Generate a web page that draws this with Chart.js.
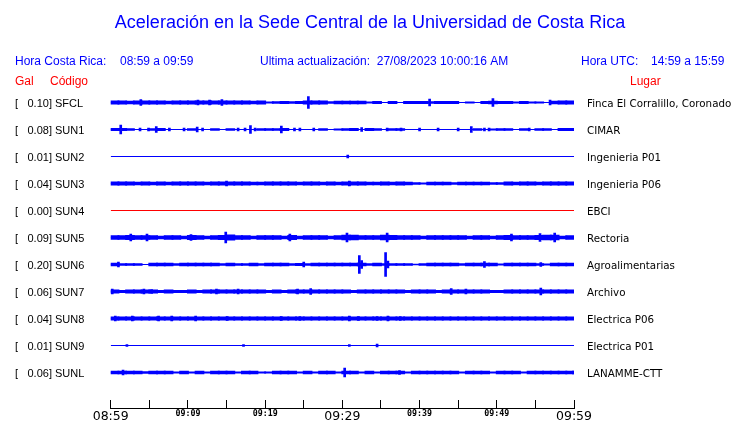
<!DOCTYPE html>
<html>
<head>
<meta charset="utf-8">
<script src="https://cdn.jsdelivr.net/npm/chart.js@4/dist/chart.umd.min.js"></script>
<style>
  html, body { margin: 0; padding: 0; background: #fff; }
  canvas { display: block; }
</style>
</head>
<body>
<canvas id="seismo" width="740" height="423"></canvas>
<script>
// Stations (top to bottom)
const codes = ['SFCL', 'SUN1', 'SUN2', 'SUN3', 'SUN4', 'SUN5', 'SUN6', 'SUN7', 'SUN8', 'SUN9', 'SUNL'];
const galMax = ['0.10', '0.08', '0.01', '0.04', '0.00', '0.09', '0.20', '0.06', '0.04', '0.01', '0.06'];
const places = ['Finca El Corralillo, Coronado', 'CIMAR', 'Ingenieria P01', 'Ingenieria P06', 'EBCI', 'Rectoria',
  'Agroalimentarias', 'Archivo', 'Electrica P06', 'Electrica P01', 'LANAMME-CTT'];

// Time axis, minutes after 08:59
const tickMinutes = [0, 5, 10, 15, 20, 25, 30, 35, 40, 45, 50, 55, 60];
const tickLabels = ['08:59', '', '09:09', '', '09:19', '', '09:29', '', '09:39', '', '09:49', '', '09:59'];
const bigTicks = ['08:59', '09:29', '09:59'];

// Trace envelope (half amplitude, one value per minute) read from the records
const envSFCL = [1.7,1.7,1.3,1.7,1.7,1.7,1.7,1.3,1.7,1.7, 1.7,1.7,1.7,1.7,1.7,1.7,1.7,1.7,1.3,1.7,
  0.6,1.0,1.2,1.0,1.2,1.7,1.7,1.7,0.8,1.5, 1.5,1.5,1.5,0.6,1.2,0,1.2,0,1.2,1.2,
  1.2,0.8,1.2,1.2,1.2,0,0.6,0,1.2,1.4, 1.2,1.2,0.6,1.2,0.6,0.6,0,1.5,1.7,1.7];
const envSUN1 = [1.2,1.2,1.0,0,0,0.8,1.2,0,0,0, 1.0,0,0,0.8,0,0.8,0,0,0,0.8,
  0.8,0.8,1.2,0,0,0,0,0.8,0,0.6, 1.0,1.2,0,1.2,1.0,0,0.8,0.8,0,0,
  0,0,0,0,0,0,0,1.0,0,0.6, 0.8,0.8,0,0.8,0,1.0,1.0,0,1.2,1.2];
const envSUN2 = new Array(60).fill(0);
const envSUN3 = [1.6,1.6,1.6,1.3,1.6,1.3,1.6,1.3,1.6,1.6, 1.6,1.6,1.3,1.6,1.6,1.6,1.6,1.6,1.3,1.3,
  1.6,1.6,1.6,1.6,1.3,1.6,1.6,1.3,1.6,1.3, 1.6,1.6,1.6,1.3,1.3,1.6,1.3,1.6,1.3,1.0,
  0.6,1.3,1.3,1.3,0.8,1.3,1.3,1.3,1.3,1.0, 0.8,1.6,1.3,1.6,1.6,1.3,1.6,1.6,1.6,1.6];
const envSUN4 = new Array(60).fill(0);
const envSUN5 = [2.0,2.0,2.2,2.0,2.0,2.0,1.4,2.0,2.0,1.4, 2.2,2.0,1.4,2.0,2.2,2.6,2.0,2.0,1.4,2.0,
  2.0,2.0,1.4,2.2,1.4,2.0,2.0,2.0,1.4,2.0, 2.4,2.4,2.0,2.0,2.0,2.4,2.2,2.0,2.0,2.0,
  1.4,2.0,2.0,2.0,2.0,2.0,1.4,2.0,2.0,1.4, 2.0,2.2,2.0,2.0,2.0,2.2,2.4,2.4,1.4,2.0];
const envSUN6 = [1.4,1.0,1.0,1.0,0,1.4,1.4,1.4,1.0,1.4, 1.4,1.4,1.4,1.4,1.0,1.4,1.0,1.0,1.4,1.0,
  1.4,1.4,1.4,1.0,1.2,1.0,1.4,1.4,1.4,1.4, 1.4,1.4,1.4,1.0,1.4,1.0,0.8,1.0,1.0,0.5,
  1.0,1.4,1.4,1.4,1.4,1.0,1.4,1.4,1.4,1.4, 0.6,1.4,1.4,1.4,1.4,1.0,0.6,1.4,1.4,1.4];
const envSUN7 = [1.7,1.2,1.7,1.7,1.7,1.7,1.2,1.7,1.2,1.2, 1.7,1.2,1.7,1.7,1.7,1.7,1.7,1.7,1.7,1.7,
  1.2,1.7,1.2,1.7,1.7,1.7,1.7,1.7,1.7,1.7, 1.7,1.2,1.7,1.7,1.7,1.7,1.7,1.7,1.2,1.7,
  1.7,1.7,1.2,1.7,1.7,1.7,1.7,1.7,1.7,1.2, 1.2,1.7,1.7,1.7,1.7,1.7,1.7,1.7,1.7,1.7];
const envSUN8 = new Array(60).fill(1.7);
const envSUN9 = new Array(60).fill(0);
const envSUNL = [1.3,1.3,1.3,1.3,0.9,1.3,1.3,1.3,0.6,1.3, 0.6,1.3,0.6,1.3,1.3,1.3,0.6,1.3,1.3,0.6,
  0.6,1.3,1.3,1.3,0.6,1.3,0.6,1.3,1.3,0.6, 1.3,1.3,0.6,1.3,0.6,1.3,1.3,1.3,0.6,1.3,
  1.3,1.3,1.3,1.3,1.3,0.6,1.3,1.3,1.3,0.6, 1.3,1.3,1.3,0.6,1.3,1.3,1.3,1.3,1.3,1.3];

// Individual peaks: [minute, half amplitude]
const spkSFCL = [[3.9,3],[11.3,2.5],[12.8,2.5],[14.4,3],[25.6,6],[41.3,3.5],[49.5,4],[56.9,2.5]];
const spkSUN1 = [[1.3,4.5],[3.8,1.5],[4.9,1.5],[5.9,3],[7.6,1.5],[9.5,1.5],[11.2,2.5],[11.9,1.5],[16.5,1.5],
  [17.4,1.5],[18.1,4],[18.7,1.5],[22.1,3.5],[23.8,1.5],[24.5,1.5],[26.3,1.5],[32.5,2],[35.8,1.5],[37.6,1.5],
  [40,1.5],[42.4,1.5],[45,1.5],[46.7,3],[48.4,1.5],[49,1.5],[54.2,1.5]];
const spkSUN2 = [[30.7,1.5]];
const spkSUN3 = [[15.0,2.5],[30.9,2.5]];
const spkSUN4 = [];
const spkSUN5 = [[2.6,3.5],[4.7,3.5],[10.4,3],[14.9,5.5],[23.2,3.5],[30.6,4.5],[35.8,4.5],[51.9,3.5],[55.6,4],[57.5,4.5]];
const spkSUN6 = [[1.0,2.5],[25.0,2.5],[32.2,9],[32.5,4],[35.6,12],[35.9,3.5],[48.4,3],[55.7,2]];
const spkSUN7 = [[0.2,2.5],[4.3,2.5],[5.3,2],[13.7,2.5],[16.5,2.5],[24.2,2.5],[25.9,3],[44.1,3],[46,2.5],[55.7,3.5]];
const spkSUN8 = [[0.6,2.3],[2.8,2.3],[6.2,2.3],[7.9,2.3],[11,2.3],[15.1,2],[22.1,2],[24.5,2],[30.9,2.3],
  [32.1,2],[34.5,2],[35.9,2.3],[37.5,2]];
const spkSUN9 = [[2.1,1],[17.2,0.8],[30.9,0.8],[34.5,1.3]];
const spkSUNL = [[1.6,2.5],[30.3,4.5],[37.4,2],[59.9,1.5]];

const envelopes = [envSFCL, envSUN1, envSUN2, envSUN3, envSUN4, envSUN5, envSUN6, envSUN7, envSUN8, envSUN9, envSUNL];
const spikes = [spkSFCL, spkSUN1, spkSUN2, spkSUN3, spkSUN4, spkSUN5, spkSUN6, spkSUN7, spkSUN8, spkSUN9, spkSUNL];

const ROW = 27;       // vertical offset between traces
const BLUE = '#0000ff';
const RED = '#ff0000';

const datasets = [];
codes.forEach((code, i) => {
  const base = i * ROW;
  const color = code === 'SUN4' ? RED : BLUE;
  // base line of the trace
  datasets.push({
    type: 'line',
    data: [{ x: 0, y: base }, { x: 60, y: base }],
    borderColor: color,
    borderWidth: 1,
    pointRadius: 0
  });
  // noise envelope, one block per minute
  datasets.push({
    type: 'bar',
    data: envelopes[i].map((a, m) => a > 0 ? { x: m + 0.5, y: [base - a, base + a] } : null).filter(Boolean),
    backgroundColor: color,
    borderWidth: 0,
    barThickness: 9,
    grouped: false
  });
  // peaks
  datasets.push({
    type: 'bar',
    data: spikes[i].map(s => ({ x: s[0], y: [base - s[1], base + s[1]] })),
    backgroundColor: color,
    borderWidth: 0,
    barThickness: 2,
    grouped: false
  });
});

// Header and station labels
const textPlugin = {
  id: 'labels',
  afterDraw(chart) {
    const ctx = chart.ctx;
    const y = chart.scales.y;
    ctx.save();
    ctx.textBaseline = 'alphabetic';
    ctx.textAlign = 'center';
    ctx.fillStyle = BLUE;
    ctx.font = '18px "Liberation Sans", Arial, sans-serif';
    ctx.fillText('Aceleración en la Sede Central de la Universidad de Costa Rica', 370, 28);

    ctx.textAlign = 'left';
    ctx.font = '12px "Liberation Sans", Arial, sans-serif';
    ctx.fillText('Hora Costa Rica:', 15, 65);
    ctx.fillText('08:59 a 09:59', 120, 65);
    ctx.fillText('Ultima actualización:  27/08/2023 10:00:16 AM', 260, 65);
    ctx.fillText('Hora UTC:', 581, 65);
    ctx.fillText('14:59 a 15:59', 651, 65);

    ctx.fillStyle = RED;
    ctx.fillText('Gal', 15, 85);
    ctx.fillText('Código', 50, 85);
    ctx.fillText('Lugar', 630, 85);

    ctx.fillStyle = '#000';
    codes.forEach((code, i) => {
      const py = y.getPixelForValue(i * ROW) + 4;
      ctx.font = '11px "Liberation Sans", Arial, sans-serif';
      ctx.fillText('[', 15, py);
      ctx.fillText(galMax[i] + '] ' + code, 27.5, py);
      ctx.font = '10.3px "DejaVu Sans", sans-serif';
      ctx.fillText(places[i], 587, py);
    });
    ctx.restore();
  }
};

new Chart(document.getElementById('seismo'), {
  type: 'line',
  data: { datasets: datasets },
  options: {
    responsive: false,
    animation: false,
    events: [],
    layout: { padding: { top: 88, left: 110.7, right: 166, bottom: 0 } },
    plugins: { legend: { display: false }, tooltip: { enabled: false } },
    scales: {
      y: {
        type: 'linear',
        display: false,
        reverse: true,
        min: -14.5,
        max: 305.5
      },
      x: {
        type: 'linear',
        min: 0,
        max: 60,
        offset: false,
        afterBuildTicks: s => { s.ticks = tickMinutes.map(v => ({ value: v })); },
        afterFit: s => { s.height = 15; },
        border: { display: true, color: '#000', width: 1 },
        grid: {
          display: true,
          offset: false,
          drawOnChartArea: false,
          drawTicks: true,
          tickLength: -8,
          tickColor: '#000',
          tickWidth: 1
        },
        ticks: {
          autoSkip: false,
          maxRotation: 0,
          padding: 9,
          color: '#000',
          callback: v => tickLabels[tickMinutes.indexOf(v)],
          font: c => bigTicks.includes(tickLabels[c.index])
            ? { family: '"DejaVu Sans", sans-serif', size: 12.5 }
            : { family: '"DejaVu Sans Mono", monospace', size: 8.3, weight: 'bold' }
        }
      }
    }
  },
  plugins: [textPlugin]
});
</script>
</body>
</html>
